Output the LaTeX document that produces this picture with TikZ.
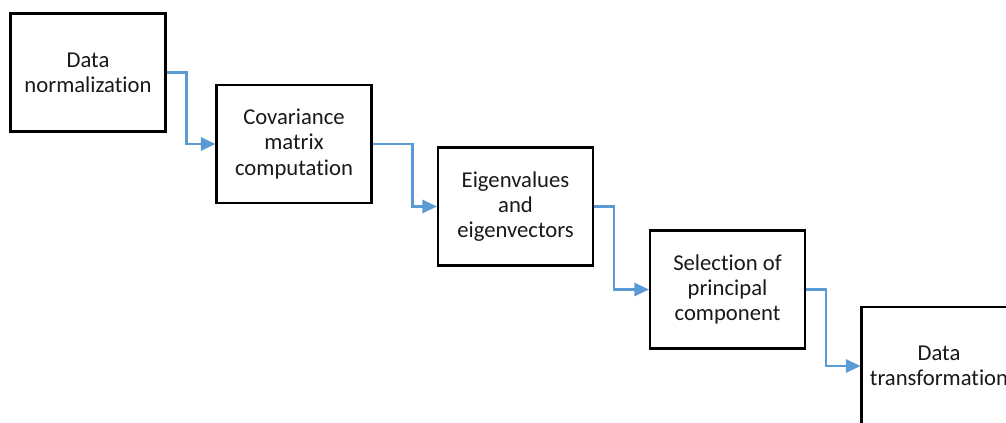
\documentclass[tikz,border=0pt]{standalone}
\usepackage{fontspec}
\setmainfont{Carlito}[Ligatures=NoCommon]
\usetikzlibrary{arrows.meta}
\definecolor{connblue}{HTML}{5B9BD5}
\tikzset{
  stepbox/.style={draw=black, line width=1.8pt, fill=white, rectangle,
    minimum width=116pt, minimum height=88.5pt, align=center, inner sep=2pt,
    font=\fontsize{17}{19}\selectfont, text=black!90},
  conn/.style={draw=connblue, line width=1.6pt,
    -{Triangle[length=11pt,width=10pt]}}
}
\begin{document}
\begin{tikzpicture}[x=0.75pt,y=-0.75pt]
\useasboundingbox (0,0) rectangle (1006,423);
\clip (0,0) rectangle (1006,423);
\node[stepbox] (b1) at (88,72.5) {Data\\normalization};
\node[stepbox] (b2) at (294,144) {Covariance\\matrix\\computation};
\node[stepbox] (b3) at (515.5,206.5) {Eigenvalues\\and\\eigenvectors};
\node[stepbox] (b4) at (727.5,289.5) {Selection of\\principal\\component};
\node[stepbox] (b5) at (939,366) {Data\\transformation};
\draw[conn] (b1.east) -- ++(20,0) |- (b2.west);
\draw[conn] (b2.east) -- ++(40,0) |- (b3.west);
\draw[conn] (b3.east) -- ++(20,0) |- (b4.west);
\draw[conn] (b4.east) -- ++(20,0) |- (b5.west);
\end{tikzpicture}
\end{document}
